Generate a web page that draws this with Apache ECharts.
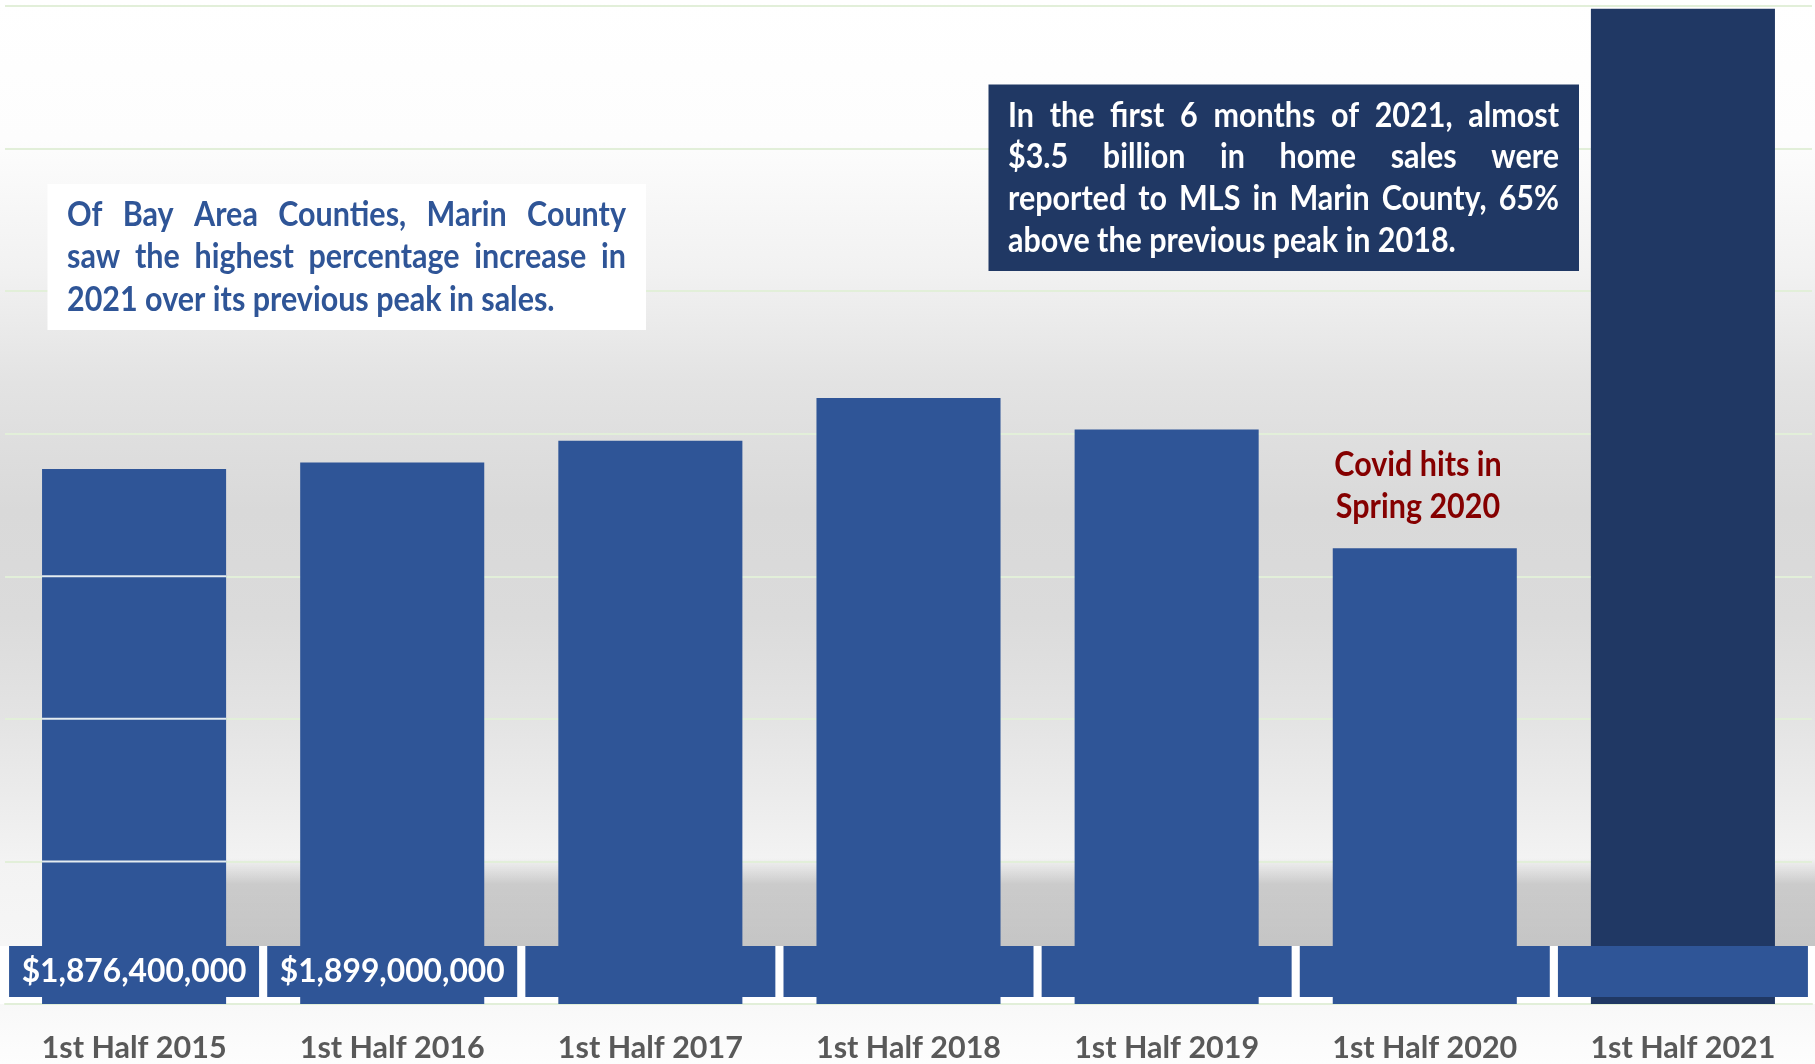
<!DOCTYPE html>
<html><head><meta charset="utf-8">
<script src="https://cdn.jsdelivr.net/npm/echarts@6/dist/echarts.min.js"></script>
<style>html,body{margin:0;padding:0;background:#fff;overflow:hidden}#c{width:1815px;height:1064px}</style>
</head><body><div id="c"></div>
<script>
// ---- data ----
const categories = ['1st Half 2015','1st Half 2016','1st Half 2017','1st Half 2018','1st Half 2019','1st Half 2020','1st Half 2021'];
const salesValues = [1876400000, 1899000000, 1975000000, 2125000000, 2015000000, 1598000000, 3490000000];
const labeledBars = [0, 1];
const highlightBar = 6;
const yMin = 0, yMax = 3500000000, yInterval = 500000000;
const noteLeft = ['Of Bay Area Counties, Marin County', 'saw the highest percentage increase in', '2021 over its previous peak in sales.'];
const noteRight = ['In the first 6 months of 2021, almost', '$3.5 billion in home sales were', 'reported to MLS in Marin County, 65%', 'above the previous peak in 2018.'];
const covidNote = ['Covid hits in', 'Spring 2020'];

// ---- styles ----
const FAMILY = 'Lato, "Open Sans", sans-serif';
const BLUE = '#2F5597', NAVY = '#203864', GRID = '#E2EFD9';
const cv = document.createElement('canvas').getContext('2d');
function mw(t, s){ cv.font = 'bold ' + s + 'px ' + FAMILY; return cv.measureText(t).width; }
const REF = 34.7;
let SX = 185 / mw('1st Half 2015', REF);
SX = Math.max(0.78, Math.min(1.1, SX));
const FS = REF * SX;
const VFS = 225 / mw('$1,876,400,000', 10) * 10;

const chart = echarts.init(document.getElementById('c'), null, {renderer:'canvas'});
chart.setOption({
  animation:false,
  grid:{left:5, right:3, top:6, bottom:60, containLabel:false},
  xAxis:{type:'category', data:categories,
    axisTick:{show:false},
    axisLine:{show:true, lineStyle:{color:GRID, width:2}},
    axisLabel:{margin:29, color:'#595959', fontFamily:FAMILY, fontWeight:'bold', fontSize:FS}},
  yAxis:{type:'value', min:yMin, max:yMax, interval:yInterval,
    axisLabel:{show:false}, axisLine:{show:false}, axisTick:{show:false},
    splitLine:{lineStyle:{color:GRID, width:2}}},
  series:[{type:'bar', barWidth:'71.3%',
    data: salesValues.map((v,i)=> i===highlightBar ? {value:v, itemStyle:{color:NAVY}} : v),
    itemStyle:{color:BLUE},
    label:{show:true, position:'insideBottom', distance:7,
      formatter: p => labeledBars.includes(p.dataIndex) ? '$' + Math.round(p.value).toLocaleString('en-US') : ' ',
      backgroundColor:BLUE, width:250, height:51, lineHeight:51, padding:0,
      color:'#fff', fontFamily:FAMILY, fontWeight:'bold', fontSize:VFS, align:'center'}
  }]
});

// ---- annotations / decoration ----
const base = chart.convertToPixel({yAxisIndex:0}, 0);
const x0 = chart.convertToPixel({xAxisIndex:0}, 0);
const x1 = chart.convertToPixel({xAxisIndex:0}, 1);
const band = x1 - x0, bw = band * 0.713;
const els = [];
els.push({type:'rect', z:-100, shape:{x:0,y:0,width:1815,height:1064}, style:{fill:{type:'linear',x:0,y:0,x2:0,y2:1,colorStops:[
  {offset:0,color:'#FFFFFF'},{offset:0.13,color:'#FDFDFD'},{offset:0.25,color:'#F2F2F2'},{offset:0.36,color:'#E3E3E3'},
  {offset:0.48,color:'#D9D9D9'},{offset:0.58,color:'#DBDBDB'},{offset:0.68,color:'#E4E4E4'},{offset:0.76,color:'#EDEDED'},
  {offset:0.81,color:'#F3F3F3'},{offset:0.94,color:'#F8F8F8'},{offset:1,color:'#FDFDFD'}]}}});
const boxTop = base - 7 - 51;
els.push({type:'rect', z:-50, shape:{x:x0, y:boxTop-88, width:1815-x0, height:88}, style:{fill:{type:'linear',x:0,y:0,x2:0,y2:1,colorStops:[
  {offset:0,color:'rgba(0,0,0,0)'},{offset:0.3,color:'rgba(0,0,0,0.17)'},{offset:1,color:'rgba(0,0,0,0.2)'}]}}});
els.push({type:'rect', z:-50, shape:{x:0, y:boxTop, width:1815, height:base-boxTop}, style:{fill:'#FFFFFF'}});
// light grid lines visible across first bar
for (let t = yInterval; t < salesValues[0]; t += yInterval) {
  const y = chart.convertToPixel({yAxisIndex:0}, t);
  if (y > boxTop) continue;
  els.push({type:'line', z:50, shape:{x1:x0-bw/2, y1:y, x2:x0+bw/2, y2:y}, style:{stroke:'#E4ECF0', lineWidth:2}});
}
function note(lines, left, right, ys, color) {
  lines.forEach((line, li) => {
    const justify = li < lines.length - 1;
    const words = line.split(' ');
    if (!justify) {
      els.push({type:'text', z:60, x:left, y:ys[li], scaleX:SX, style:{text:line, font:'bold '+REF+'px '+FAMILY, fill:color, align:'left', verticalAlign:'middle'}});
      return;
    }
    const ws = words.map(w => mw(w, REF) * SX);
    const tot = ws.reduce((a,b)=>a+b, 0);
    const gap = (right - left - tot) / (words.length - 1);
    let x = left;
    words.forEach((w,i) => {
      els.push({type:'text', z:60, x:x, y:ys[li], scaleX:SX, style:{text:w, font:'bold '+REF+'px '+FAMILY, fill:color, align:'left', verticalAlign:'middle'}});
      x += ws[i] + gap;
    });
  });
}
els.push({type:'rect', z:55, shape:{x:47.5, y:184, width:598.5, height:146}, style:{fill:'#FFFFFF'}});
note(noteLeft, 67, 626, [215, 257, 300], BLUE);
els.push({type:'rect', z:55, shape:{x:988.5, y:84.5, width:590.5, height:186.5}, style:{fill:NAVY}});
note(noteRight, 1008, 1559, [116, 157, 199, 241], '#FFFFFF');
covidNote.forEach((t,i) => {
  els.push({type:'text', z:60, x:1418, y:465 + i*41.5, scaleX:SX, style:{text:t, font:'bold '+REF+'px '+FAMILY, fill:'#850000', align:'center', verticalAlign:'middle'}});
});
chart.setOption({graphic:{elements:els}});
</script>
</body></html>
